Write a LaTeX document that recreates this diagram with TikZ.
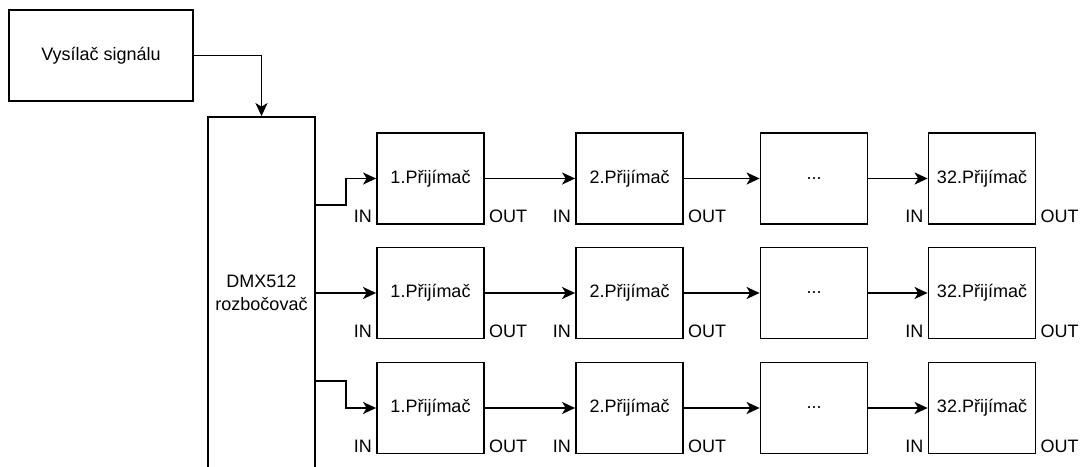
\documentclass[tikz,border=0pt]{standalone}
\usepackage{fontspec}
\setmainfont{Liberation Sans}
\usetikzlibrary{arrows.meta}

\begin{document}
\begin{tikzpicture}[x=1pt, y=-1pt,
  every node/.style={font=\fontsize{18}{23}\selectfont},
  every label/.style={font=\fontsize{18}{23}\selectfont, inner xsep=4pt, inner ysep=2pt},
  box/.style={draw, line width=1.8pt, minimum width=107pt, minimum height=91pt, inner sep=0pt},
  rx/.style={box, label={[anchor=south east]south west:IN}, label={[anchor=south west]south east:OUT}},
  sig/.style={draw, line width=1.8pt, -{Stealth[length=13pt, width=12pt, inset=3.5pt]}}]
\useasboundingbox (0,0) rectangle (1081,466);

\node[box, minimum width=184pt] (tx) at (101,55.5) {Vysílač signálu};
\node[box, minimum height=352pt, align=center] (dmx) at (261.5,293) {DMX512\\rozbočovač};

\node[rx] (r11) at (430.5,178.5) {1.Přijímač};
\node[rx] (r12) at (629.5,178.5) {2.Přijímač};
\node[box] (r13) at (814,178.5) {...};
\node[rx] (r14) at (982,178.5) {32.Přijímač};

\node[rx] (r21) at (430.5,293) {1.Přijímač};
\node[rx] (r22) at (629.5,293) {2.Přijímač};
\node[box] (r23) at (814,293) {...};
\node[rx] (r24) at (982,293) {32.Přijímač};

\node[rx] (r31) at (430.5,408) {1.Přijímač};
\node[rx] (r32) at (629.5,408) {2.Přijímač};
\node[box] (r33) at (814,408) {...};
\node[rx] (r34) at (982,408) {32.Přijímač};

\coordinate (s1) at (315,205);
\coordinate (s3) at (315,381);

\path[sig] (tx) -| (dmx);
\path[sig] (s1) -- (346,205) |- (r11);
\path[sig] (dmx) -- (r21);
\path[sig] (s3) -- (346,381) |- (r31);

\path[sig] (r11) -- (r12);
\path[sig] (r12) -- (r13);
\path[sig] (r13) -- (r14);
\path[sig] (r21) -- (r22);
\path[sig] (r22) -- (r23);
\path[sig] (r23) -- (r24);
\path[sig] (r31) -- (r32);
\path[sig] (r32) -- (r33);
\path[sig] (r33) -- (r34);
\end{tikzpicture}
\end{document}
